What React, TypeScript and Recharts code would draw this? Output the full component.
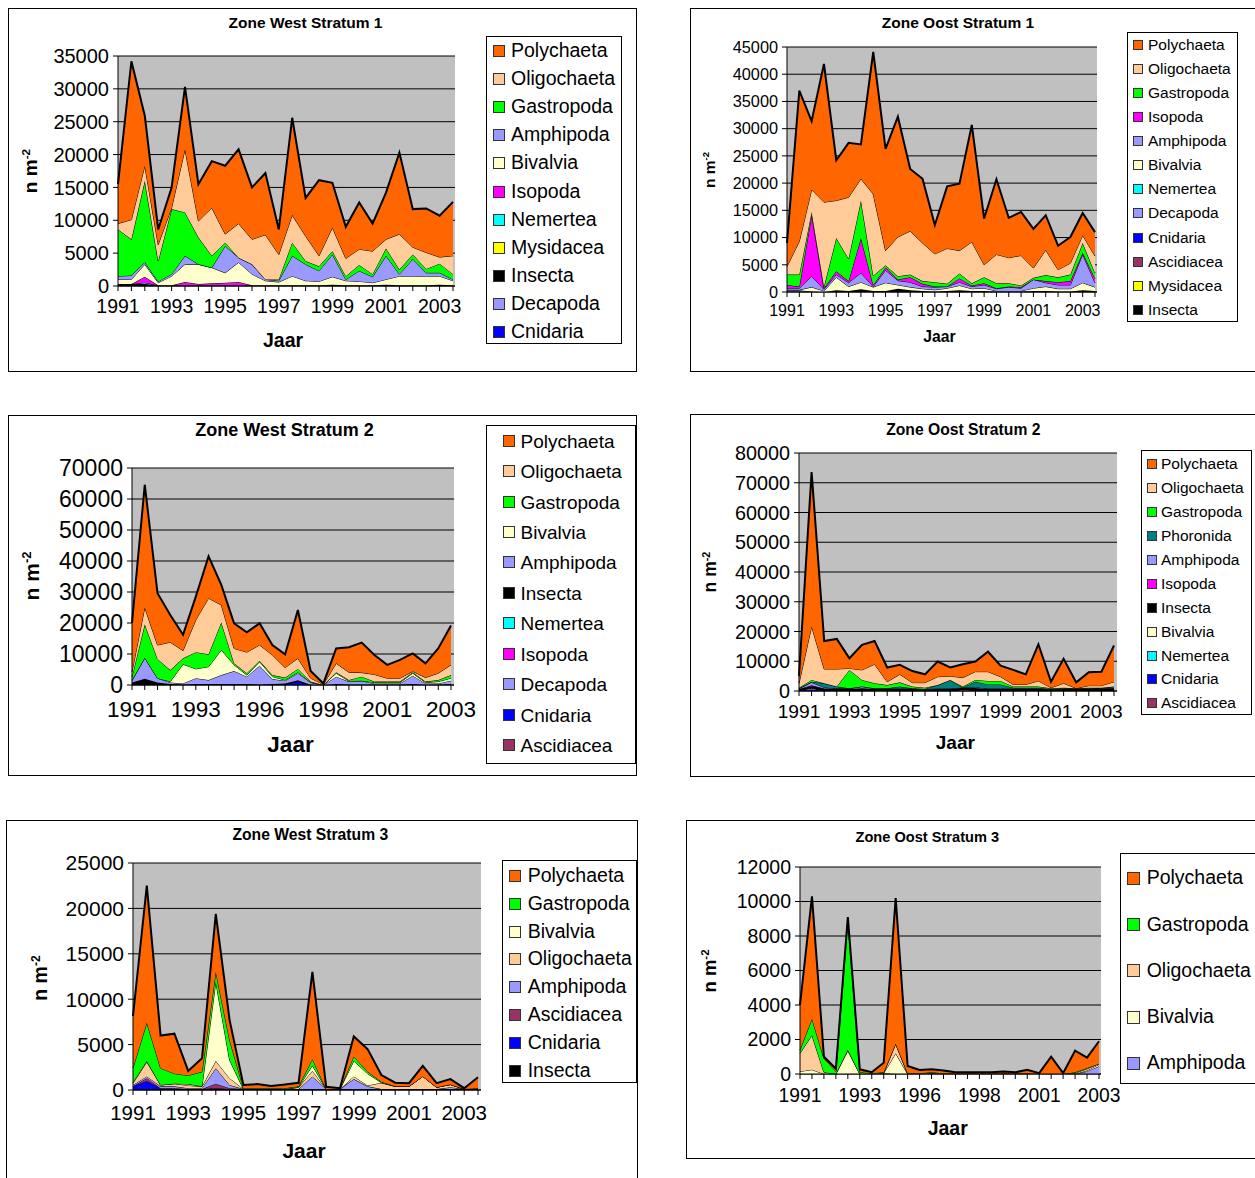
import React from 'react';
import { AreaChart, Area, XAxis, YAxis, CartesianGrid } from 'recharts';

const FONT = '"Liberation Sans", Arial, Helvetica, sans-serif';

// ---------- categories (sampling dates, labelled by year) ----------
const halfYearDates = ['1991','1991','1992','1992','1993','1993','1994','1994','1995','1995','1996','1996','1997','1997','1998','1998','1999','1999','2000','2000','2001','2001','2002','2002','2003','2003'];
const irregularDates = ['1991','1991','1992','1992','1992','1993','1993','1994','1994','1995','1996','1996','1997','1997','1997','1998','1999','1999','2000','2000','2001','2001','2002','2002','2002','2003'];

// ---------- Zone West Stratum 1 ----------
const ws1Cnidaria    = [0,0,0,0,0,0,0,0,0,0,0,0,0,0,0,0,100,0,0,0,100,0,0,0,100,0];
const ws1Decapoda    = [0,0,0,0,0,0,0,0,0,0,0,0,0,0,0,0,0,0,0,0,0,0,0,0,0,0];
const ws1Insecta     = [300,300,300,100,100,100,100,100,100,100,100,100,100,100,100,100,100,100,100,100,100,100,100,100,100,100];
const ws1Mysidacea   = [0,0,0,0,0,0,0,0,0,0,0,0,0,0,0,0,0,0,0,0,0,0,0,0,0,0];
const ws1Nemertea    = [0,0,200,0,0,0,0,0,0,0,0,0,0,0,0,0,0,0,0,0,0,0,0,0,0,0];
const ws1Isopoda     = [0,0,900,0,0,500,200,300,400,500,0,0,0,0,0,0,0,0,0,0,0,0,0,0,0,0];
const ws1Bivalvia    = [700,700,1900,400,1400,2700,3000,2400,1500,3000,1700,700,500,1400,700,600,1200,700,600,400,800,1400,1400,1400,1300,700];
const ws1Amphipoda   = [500,600,300,200,300,1300,0,0,4100,700,1500,200,200,3100,2500,1600,3400,200,1600,900,3600,300,2600,500,500,200];
const ws1Gastropoda  = [7100,5500,12400,3100,9900,6600,4100,1800,500,0,0,0,200,2000,500,700,500,500,900,400,1100,700,700,600,1400,800];
const ws1Oligochaeta = [900,3000,2300,2500,200,9600,2500,7300,1300,5200,3800,6800,3800,4200,3800,1600,3600,2700,2400,3500,1400,5400,1100,2500,1000,2800];
const ws1Polychaeta  = [6000,24100,7600,2300,3100,9500,5600,7100,10400,11300,7900,9400,3800,14800,5800,11500,6800,4800,7100,4200,7100,12400,5800,6700,6300,8200];

// ---------- Zone Oost Stratum 1 ----------
const os1Insecta     = [100,100,100,0,300,200,500,200,200,600,300,200,100,200,300,200,200,100,100,100,200,200,100,100,300,200];
const os1Mysidacea   = [0,0,0,0,0,0,0,0,0,0,0,0,0,0,0,0,0,0,0,0,0,0,0,0,0,0];
const os1Ascidiacea  = [0,0,0,0,0,0,0,0,0,0,0,0,0,0,0,0,0,0,0,0,0,0,0,0,0,0];
const os1Cnidaria    = [0,0,0,0,0,0,0,0,0,0,0,0,0,0,0,0,0,0,0,0,0,0,0,0,0,0];
const os1Decapoda    = [0,0,0,0,0,0,0,0,0,0,0,0,0,0,0,0,0,0,0,0,0,0,0,0,0,0];
const os1Nemertea    = [200,200,0,0,0,0,0,0,0,0,0,0,0,0,0,0,0,0,0,0,0,0,0,0,0,0];
const os1Bivalvia    = [100,100,800,200,2400,800,1300,700,1500,700,600,400,300,500,900,400,500,100,100,100,500,800,500,500,1400,700];
const os1Amphipoda   = [300,300,2000,300,500,700,1700,100,2300,800,900,400,500,300,600,400,600,400,700,500,1600,700,700,700,5200,800];
const os1Isopoda     = [600,300,11300,200,600,300,6400,300,500,200,900,500,100,0,700,200,300,100,100,200,0,300,500,700,300,800];
const os1Gastropoda  = [1900,2200,500,300,6100,4100,6900,1700,400,600,500,500,800,500,900,400,1100,900,600,300,300,1100,900,1200,1800,1000];
const os1Oligochaeta = [1500,6100,4100,15500,6900,11300,4000,15000,2700,7200,8000,7000,5200,6500,4200,7600,2300,5300,4700,5500,1800,4600,1400,2100,1400,3100];
const os1Polychaeta  = [4300,27700,12600,25400,7400,10000,6300,26100,18700,22100,11400,11800,5300,11400,12300,21500,8500,13800,7300,8000,7200,6400,4400,4800,4100,4400];

// ---------- Zone West Stratum 2 ----------
const ws2Ascidiacea  = [0,0,0,0,0,0,0,0,0,0,0,0,0,0,0,0,0,0,0,0,0,0,0,0,0,0];
const ws2Cnidaria    = [0,0,0,0,0,0,0,0,0,0,0,0,200,1200,0,0,0,0,0,0,0,0,0,0,0,0];
const ws2Decapoda    = [0,0,0,0,0,0,0,0,0,0,0,0,0,0,0,0,0,0,0,0,0,0,0,0,0,0];
const ws2Isopoda     = [0,0,0,0,0,0,0,0,0,0,0,0,0,0,0,0,0,0,0,0,0,0,0,0,0,0];
const ws2Nemertea    = [0,0,0,0,0,0,0,0,0,0,0,0,0,0,0,0,0,0,0,0,0,0,0,0,0,0];
const ws2Insecta     = [800,2000,800,300,200,300,300,300,300,300,200,300,300,300,100,0,300,200,200,200,200,200,300,100,200,300];
const ws2Amphipoda   = [600,6800,1400,500,300,1900,1300,2900,4200,2400,6000,1600,900,2300,700,0,2400,900,1100,300,300,300,2700,400,300,1100];
const ws2Bivalvia    = [200,0,0,300,6200,3000,4300,8100,2000,500,1300,800,200,300,100,0,1100,200,100,300,300,300,800,300,600,800];
const ws2Gastropoda  = [1100,10800,6200,3700,1900,5400,4000,8900,500,600,300,500,800,1100,200,0,300,300,1300,300,300,300,300,300,500,1000];
const ws2Oligochaeta = [1600,5400,4500,9000,2500,10400,18100,5600,4800,6800,5100,6500,3200,3400,1100,200,2900,2500,1300,2300,1100,1100,300,1300,2200,3300];
const ws2Polychaeta  = [15700,39600,16700,8800,5100,7500,13500,6500,8100,6400,7000,3200,4300,15600,2300,300,4800,8100,9700,6300,4300,5900,5800,4600,8000,12700];

// ---------- Zone Oost Stratum 2 ----------
const os2Ascidiacea  = [0,0,0,0,0,0,0,0,0,0,0,0,0,600,300,0,0,0,0,0,0,0,0,0,0,0];
const os2Cnidaria    = [200,600,0,0,0,0,0,0,0,0,0,0,0,0,0,0,0,0,0,0,0,0,0,0,0,0];
const os2Nemertea    = [0,0,0,0,0,0,0,0,0,0,0,0,0,0,0,0,0,0,0,0,0,0,0,0,0,0];
const os2Bivalvia    = [0,300,0,0,0,200,0,0,0,0,0,0,0,0,0,0,0,0,0,0,0,0,0,0,0,0];
const os2Insecta     = [500,800,800,800,700,700,700,700,700,700,600,700,700,500,700,700,700,700,700,700,600,700,700,700,800,900];
const os2Isopoda     = [0,200,0,0,0,0,0,0,0,0,0,0,0,0,0,0,0,0,0,0,0,0,0,0,0,0];
const os2Amphipoda   = [100,1000,400,100,100,600,100,100,100,100,100,100,100,100,300,100,100,100,100,100,100,100,100,100,100,100];
const os2Phoronida   = [100,200,1400,600,100,0,100,100,700,100,0,1200,2900,0,1800,1400,1400,300,300,300,0,100,100,100,200,500];
const os2Gastropoda  = [200,600,0,0,6200,2200,1700,1100,1400,600,400,0,0,300,600,1200,1200,400,400,400,200,200,0,200,0,0];
const os2Oligochaeta = [1500,18000,4800,5900,500,3400,6400,1100,2700,1300,1700,2800,1300,3000,2800,3100,1400,700,700,1900,200,1500,0,700,700,1600];
const os2Polychaeta  = [2400,51900,9400,10100,3400,8400,7800,4800,3200,3900,2800,5100,2900,4500,3400,6700,3700,4900,3400,12300,2000,8200,2000,4500,4700,12200];

// ---------- Zone West Stratum 3 ----------
const ws3Insecta     = [100,100,100,100,100,100,100,100,100,100,100,100,100,100,100,100,100,100,100,100,100,100,100,100,100,100];
const ws3Cnidaria    = [300,900,100,100,0,0,100,0,0,0,0,0,0,0,0,0,0,0,0,0,0,0,0,0,0,0];
const ws3Ascidiacea  = [0,300,0,0,0,0,500,100,0,0,0,0,0,0,0,0,0,0,0,0,0,0,0,0,0,0];
const ws3Amphipoda   = [150,200,200,200,100,100,1700,350,0,0,0,0,0,1400,0,0,1100,300,0,0,0,0,0,200,0,0];
const ws3Oligochaeta = [200,1600,150,300,300,200,800,750,0,0,0,0,200,600,0,0,300,100,700,300,300,1400,200,300,0,100];
const ws3Bivalvia    = [100,100,0,0,150,0,8700,2000,0,0,0,0,0,600,0,0,1700,1300,0,0,0,0,0,0,0,0];
const ws3Gastropoda  = [1600,4200,1850,1100,950,1600,1100,2200,100,100,100,100,100,700,0,0,500,200,100,0,0,0,0,0,0,0];
const ws3Polychaeta  = [5700,15100,3600,4400,500,1500,6400,2200,350,450,250,400,400,9600,250,100,2200,2500,750,400,350,1150,450,600,100,1200];

// ---------- Zone Oost Stratum 3 ----------
const os3Amphipoda   = [0,0,0,0,0,0,0,50,0,0,0,50,0,0,0,0,0,0,0,0,0,0,0,0,150,450];
const os3Bivalvia    = [150,250,0,0,1350,0,0,0,1200,0,0,0,0,0,0,0,0,0,0,0,0,0,0,0,50,100];
const os3Oligochaeta = [1050,2000,100,0,50,0,0,0,550,0,0,0,0,0,0,0,0,0,0,0,0,0,0,50,100,50];
const os3Gastropoda  = [200,950,800,150,7500,100,50,50,0,50,50,50,50,30,30,30,30,30,30,30,0,0,0,50,50,0];
const os3Polychaeta  = [2600,7100,100,150,200,170,50,550,8450,410,180,170,150,70,70,70,70,120,70,220,50,1000,50,1250,600,1300];

const COLORS: Record<string, string> = {
  Polychaeta: '#FF6600',
  Oligochaeta: '#FFCC99',
  Gastropoda: '#00FF00',
  Amphipoda: '#9999FF',
  Bivalvia: '#FFFFCC',
  Isopoda: '#FF00FF',
  Nemertea: '#00FFFF',
  Mysidacea: '#FFFF00',
  Insecta: '#000000',
  Decapoda: '#9999FF',
  Cnidaria: '#0000FF',
  Ascidiacea: '#993366',
  Phoronida: '#008080',
};

type Series = { name: string; values: number[] };
type Rect = { x: number; y: number; w: number; h: number };
type PanelCfg = {
  title: string; titleX: number; titleY: number; titleSize: number;
  box: Rect;
  plot: Rect; padRight: number;
  yMax: number; yStep: number; yFont: number; xFont: number; xEvery: number; xMargin: number;
  categories: string[];
  series: Series[]; // bottom -> top
  legendBox: Rect; legendRow0: number; legendStep: number; markerX: number; markerSize: number; textX: number; legendFont: number;
  ylab: { cx: number; cy: number; size: number };
  xlab: { cx: number; cy: number; size: number };
};

const panels: PanelCfg[] = [
  {
    title: 'Zone West Stratum 1', titleX: 305.5, titleY: 22.5, titleSize: 15.5,
    box: { x: 8, y: 8, w: 629, h: 364 },
    plot: { x: 118, y: 56, w: 337, h: 230 }, padRight: 2,
    yMax: 35000, yStep: 5000, yFont: 20, xFont: 19.5, xEvery: 4, xMargin: 8.6,
    categories: halfYearDates,
    series: [
      { name: 'Cnidaria', values: ws1Cnidaria },
      { name: 'Decapoda', values: ws1Decapoda },
      { name: 'Insecta', values: ws1Insecta },
      { name: 'Mysidacea', values: ws1Mysidacea },
      { name: 'Nemertea', values: ws1Nemertea },
      { name: 'Isopoda', values: ws1Isopoda },
      { name: 'Bivalvia', values: ws1Bivalvia },
      { name: 'Amphipoda', values: ws1Amphipoda },
      { name: 'Gastropoda', values: ws1Gastropoda },
      { name: 'Oligochaeta', values: ws1Oligochaeta },
      { name: 'Polychaeta', values: ws1Polychaeta },
    ],
    legendBox: { x: 486, y: 36, w: 136, h: 308 }, legendRow0: 51, legendStep: 28.1, markerX: 493, markerSize: 12, textX: 511, legendFont: 19.5,
    ylab: { cx: 30, cy: 170.5, size: 19 },
    xlab: { cx: 283, cy: 341, size: 19.5 },
  },
  {
    title: 'Zone Oost Stratum 1', titleX: 958, titleY: 23, titleSize: 15.5,
    box: { x: 690, y: 8, w: 620, h: 364 },
    plot: { x: 787, y: 47, w: 310, h: 245 }, padRight: 2,
    yMax: 45000, yStep: 5000, yFont: 16.3, xFont: 16, xEvery: 4, xMargin: 7.3,
    categories: halfYearDates,
    series: [
      { name: 'Insecta', values: os1Insecta },
      { name: 'Mysidacea', values: os1Mysidacea },
      { name: 'Ascidiacea', values: os1Ascidiacea },
      { name: 'Cnidaria', values: os1Cnidaria },
      { name: 'Decapoda', values: os1Decapoda },
      { name: 'Nemertea', values: os1Nemertea },
      { name: 'Bivalvia', values: os1Bivalvia },
      { name: 'Amphipoda', values: os1Amphipoda },
      { name: 'Isopoda', values: os1Isopoda },
      { name: 'Gastropoda', values: os1Gastropoda },
      { name: 'Oligochaeta', values: os1Oligochaeta },
      { name: 'Polychaeta', values: os1Polychaeta },
    ],
    legendBox: { x: 1127, y: 32, w: 111, h: 290 }, legendRow0: 44.7, legendStep: 24.1, markerX: 1133, markerSize: 10, textX: 1148, legendFont: 15.5,
    ylab: { cx: 710, cy: 169.5, size: 15.5 },
    xlab: { cx: 939.5, cy: 336.5, size: 15.7 },
  },
  {
    title: 'Zone West Stratum 2', titleX: 284.5, titleY: 430, titleSize: 18,
    box: { x: 8, y: 415, w: 629, h: 361 },
    plot: { x: 132, y: 468, w: 322, h: 217 }, padRight: 3,
    yMax: 70000, yStep: 10000, yFont: 23, xFont: 22.5, xEvery: 5, xMargin: 11,
    categories: irregularDates,
    series: [
      { name: 'Ascidiacea', values: ws2Ascidiacea },
      { name: 'Cnidaria', values: ws2Cnidaria },
      { name: 'Decapoda', values: ws2Decapoda },
      { name: 'Isopoda', values: ws2Isopoda },
      { name: 'Nemertea', values: ws2Nemertea },
      { name: 'Insecta', values: ws2Insecta },
      { name: 'Amphipoda', values: ws2Amphipoda },
      { name: 'Bivalvia', values: ws2Bivalvia },
      { name: 'Gastropoda', values: ws2Gastropoda },
      { name: 'Oligochaeta', values: ws2Oligochaeta },
      { name: 'Polychaeta', values: ws2Polychaeta },
    ],
    legendBox: { x: 486, y: 425, w: 150, h: 339 }, legendRow0: 440.7, legendStep: 30.43, markerX: 503, markerSize: 12, textX: 520.5, legendFont: 19,
    ylab: { cx: 31, cy: 576, size: 21 },
    xlab: { cx: 290.5, cy: 745, size: 22.5 },
  },
  {
    title: 'Zone Oost Stratum 2', titleX: 963.3, titleY: 430, titleSize: 15.7,
    box: { x: 690, y: 414, w: 620, h: 363 },
    plot: { x: 799, y: 453, w: 318, h: 238 }, padRight: 3,
    yMax: 80000, yStep: 10000, yFont: 19.8, xFont: 19.2, xEvery: 4, xMargin: 8.3,
    categories: halfYearDates,
    series: [
      { name: 'Ascidiacea', values: os2Ascidiacea },
      { name: 'Cnidaria', values: os2Cnidaria },
      { name: 'Nemertea', values: os2Nemertea },
      { name: 'Bivalvia', values: os2Bivalvia },
      { name: 'Insecta', values: os2Insecta },
      { name: 'Isopoda', values: os2Isopoda },
      { name: 'Amphipoda', values: os2Amphipoda },
      { name: 'Phoronida', values: os2Phoronida },
      { name: 'Gastropoda', values: os2Gastropoda },
      { name: 'Oligochaeta', values: os2Oligochaeta },
      { name: 'Polychaeta', values: os2Polychaeta },
    ],
    legendBox: { x: 1141, y: 450, w: 111, h: 265 }, legendRow0: 464.3, legendStep: 23.9, markerX: 1147, markerSize: 10, textX: 1161, legendFont: 15.5,
    ylab: { cx: 711, cy: 572, size: 17.5 },
    xlab: { cx: 955.3, cy: 741.7, size: 19 },
  },
  {
    title: 'Zone West Stratum 3', titleX: 310.3, titleY: 835, titleSize: 15.7,
    box: { x: 6, y: 820, w: 632, h: 400 },
    plot: { x: 133, y: 863, w: 348, h: 227 }, padRight: 3,
    yMax: 25000, yStep: 5000, yFont: 21, xFont: 20.5, xEvery: 4, xMargin: 10.7,
    categories: halfYearDates,
    series: [
      { name: 'Insecta', values: ws3Insecta },
      { name: 'Cnidaria', values: ws3Cnidaria },
      { name: 'Ascidiacea', values: ws3Ascidiacea },
      { name: 'Amphipoda', values: ws3Amphipoda },
      { name: 'Oligochaeta', values: ws3Oligochaeta },
      { name: 'Bivalvia', values: ws3Bivalvia },
      { name: 'Gastropoda', values: ws3Gastropoda },
      { name: 'Polychaeta', values: ws3Polychaeta },
    ],
    legendBox: { x: 502, y: 860, w: 135, h: 223 }, legendRow0: 875.7, legendStep: 27.9, markerX: 509, markerSize: 12, textX: 527.7, legendFont: 19.5,
    ylab: { cx: 40.5, cy: 977.5, size: 19.5 },
    xlab: { cx: 304, cy: 1150.3, size: 21 },
  },
  {
    title: 'Zone Oost Stratum 3', titleX: 927.3, titleY: 836.7, titleSize: 14.6,
    box: { x: 686, y: 820, w: 620, h: 339 },
    plot: { x: 800, y: 867, w: 301, h: 207 }, padRight: 2,
    yMax: 12000, yStep: 2000, yFont: 19.5, xFont: 19.3, xEvery: 5, xMargin: 9.4,
    categories: irregularDates,
    series: [
      { name: 'Amphipoda', values: os3Amphipoda },
      { name: 'Bivalvia', values: os3Bivalvia },
      { name: 'Oligochaeta', values: os3Oligochaeta },
      { name: 'Gastropoda', values: os3Gastropoda },
      { name: 'Polychaeta', values: os3Polychaeta },
    ],
    legendBox: { x: 1120, y: 853, w: 160, h: 231 }, legendRow0: 878.3, legendStep: 46.25, markerX: 1127, markerSize: 13, textX: 1146.7, legendFont: 19.5,
    ylab: { cx: 709.5, cy: 971, size: 18.5 },
    xlab: { cx: 947.7, cy: 1128.8, size: 19.5 },
  },
];

const Y_AXIS_W = 90;
const X_AXIS_H = 45;
const TOP_PAD = 18;
const RIGHT_PAD = 32;

function makeXTick(every: number, fs: number) {
  return (props: any) => {
    const { x, y, payload, index } = props;
    const i = typeof index === 'number' ? index : payload?.index ?? 0;
    if (i % every !== 0) return <g />;
    return (
      <text x={x} y={y} dy="0.71em" textAnchor="middle" fontSize={fs} fontFamily={FONT} fill="#000">
        {payload.value}
      </text>
    );
  };
}

function Panel({ cfg }: { cfg: PanelCfg }) {
  const rows = cfg.categories.map((c, i) => {
    const r: Record<string, any> = { jaar: c };
    cfg.series.forEach((s) => { r[s.name] = s.values[i]; });
    return r;
  });
  const yTicks: number[] = [];
  for (let v = 0; v <= cfg.yMax; v += cfg.yStep) yTicks.push(v);
  const legendNames = [...cfg.series].reverse().map((s) => s.name);
  const { plot } = cfg;

  return (
    <>
      <div style={{ position: 'absolute', left: cfg.box.x, top: cfg.box.y, width: cfg.box.w, height: cfg.box.h, border: '1px solid #000', boxSizing: 'border-box' }} />
      <div style={{ position: 'absolute', left: cfg.titleX, top: cfg.titleY, transform: 'translate(-50%,-50%)', fontWeight: 'bold', fontSize: cfg.titleSize, lineHeight: 1, whiteSpace: 'nowrap', fontFamily: FONT }}>
        {cfg.title}
      </div>
      <div style={{ position: 'absolute', left: plot.x - Y_AXIS_W, top: plot.y - TOP_PAD }}>
        <AreaChart
          width={plot.w + Y_AXIS_W + RIGHT_PAD}
          height={plot.h + TOP_PAD + X_AXIS_H}
          data={rows}
          margin={{ top: TOP_PAD, right: RIGHT_PAD, left: 0, bottom: 0 }}
        >
          <CartesianGrid fill="#C0C0C0" fillOpacity={1} stroke="#000" strokeWidth={1} vertical={false} />
          <XAxis
            dataKey="jaar"
            interval={0}
            height={X_AXIS_H}
            tickSize={5}
            tickMargin={cfg.xMargin}
            padding={{ left: 0, right: cfg.padRight }}
            axisLine={{ stroke: '#000' }}
            tickLine={{ stroke: '#000' }}
            tick={makeXTick(cfg.xEvery, cfg.xFont)}
          />
          <YAxis
            width={Y_AXIS_W}
            domain={[0, cfg.yMax]}
            ticks={yTicks}
            interval={0}
            allowDataOverflow
            tickSize={5}
            tickMargin={4}
            axisLine={{ stroke: '#000' }}
            tickLine={{ stroke: '#000' }}
            tick={{ fontSize: cfg.yFont, fill: '#000', fontFamily: FONT }}
          />
          {cfg.series.map((s) => (
            <Area
              key={s.name}
              type="linear"
              dataKey={s.name}
              name={s.name}
              stackId="stack"
              stroke="#000"
              strokeWidth={s.name === 'Polychaeta' ? 2 : 1}
              fill={COLORS[s.name]}
              fillOpacity={1}
              dot={false}
              activeDot={false}
              isAnimationActive={false}
            />
          ))}
        </AreaChart>
      </div>
      <div style={{ position: 'absolute', left: cfg.ylab.cx, top: cfg.ylab.cy, transform: 'translate(-50%,-50%) rotate(-90deg)', fontWeight: 'bold', fontSize: cfg.ylab.size, lineHeight: 1, whiteSpace: 'nowrap', fontFamily: FONT }}>
        n m<span style={{ fontSize: '0.62em', position: 'relative', top: '-0.6em' }}>-2</span>
      </div>
      <div style={{ position: 'absolute', left: cfg.xlab.cx, top: cfg.xlab.cy, transform: 'translate(-50%,-50%)', fontWeight: 'bold', fontSize: cfg.xlab.size, lineHeight: 1, whiteSpace: 'nowrap', fontFamily: FONT }}>
        Jaar
      </div>
      <div style={{ position: 'absolute', left: cfg.legendBox.x, top: cfg.legendBox.y, width: cfg.legendBox.w, height: cfg.legendBox.h, border: '1px solid #000', boxSizing: 'border-box', background: '#fff' }} />
      {legendNames.map((n, i) => {
        const cy = cfg.legendRow0 + i * cfg.legendStep;
        return (
          <React.Fragment key={n}>
            <div style={{ position: 'absolute', left: cfg.markerX, top: cy - cfg.markerSize / 2, width: cfg.markerSize, height: cfg.markerSize, background: COLORS[n], border: '1px solid #333', boxSizing: 'border-box' }} />
            <div style={{ position: 'absolute', left: cfg.textX, top: cy, transform: 'translateY(-50%)', fontSize: cfg.legendFont, lineHeight: 1, whiteSpace: 'nowrap', fontFamily: FONT }}>
              {n}
            </div>
          </React.Fragment>
        );
      })}
    </>
  );
}

export default function App() {
  return (
    <div style={{ position: 'absolute', left: 0, top: 0, width: 1255, height: 1178, overflow: 'hidden', background: '#fff', fontFamily: FONT, color: '#000' }}>
      {panels.map((p) => (
        <Panel key={p.title} cfg={p} />
      ))}
    </div>
  );
}
